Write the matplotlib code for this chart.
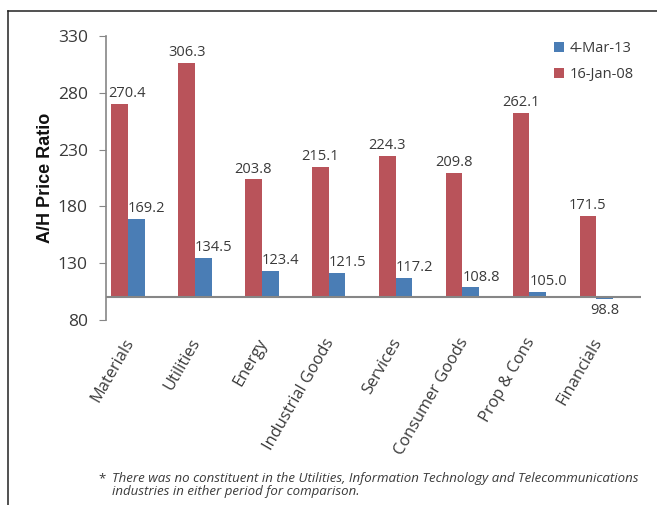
import matplotlib
matplotlib.use("Agg")
import matplotlib.pyplot as plt
from matplotlib.lines import Line2D
from matplotlib.transforms import ScaledTranslation
import numpy as np

sectors = ['Materials', 'Utilities', 'Energy', 'Industrial Goods', 'Services',
           'Consumer Goods', 'Prop & Cons', 'Financials']
jan_08 = [270.4, 306.3, 203.8, 215.1, 224.3, 209.8, 262.1, 171.5]
mar_13 = [169.2, 134.5, 123.4, 121.5, 117.2, 108.8, 105.0, 98.8]
yticks = [80, 130, 180, 230, 280, 330]
base = 100

red = '#B9535A'
blue = '#4A7DB5'
txt = '#3A3A3A'
axis_grey = '#868686'

plt.rcParams['font.family'] = ['Open Sans', 'DejaVu Sans']

fig = plt.figure(figsize=(6.57, 5.05), dpi=100)
ax = fig.add_axes([0.1613, 0.3663, 0.8144, 0.5624])

x = np.arange(len(sectors))
w = 0.25
red_h = [v - base for v in jan_08]
blue_h = [v - base for v in mar_13]
ax.bar(x - w / 2, red_h, width=w, bottom=base, color=red, label='16-Jan-08')
ax.bar(x + w / 2, blue_h, width=w, bottom=base, color=blue, label='4-Mar-13')

# value labels
for i, v in enumerate(jan_08):
    dx = 5 if i == 0 else 0
    ax.annotate(f'{v:.1f}', (x[i] - w / 2, v), xytext=(dx, 2), textcoords='offset points',
                ha='center', va='bottom', fontsize=10.5, color=txt)
for i, v in enumerate(mar_13):
    if v >= base:
        ax.annotate(f'{v:.1f}', (x[i], v), xytext=(0, 2), textcoords='offset points',
                    ha='left', va='bottom', fontsize=10.5, color=txt)
    else:
        ax.annotate(f'{v:.1f}', (x[i] + w / 2, v), xytext=(0, -3), textcoords='offset points',
                    ha='center', va='top', fontsize=10.5, color=txt)

ax.set_xlim(-0.33, 7.67)
ax.set_ylim(80, 330)
ax.set_yticks(yticks)
ax.tick_params(axis='y', direction='out', length=5, color=axis_grey, labelsize=12.5,
               labelcolor=txt, pad=8)
ax.set_xticks(x)
ax.set_xticklabels(sectors, rotation=60, ha='right', va='top', rotation_mode='anchor',
                   fontsize=11.8, color=txt)
ax.tick_params(axis='x', length=0, pad=11)
shift = ScaledTranslation(-5 / 100, 0, fig.dpi_scale_trans)
for lbl in ax.get_xticklabels():
    lbl.set_transform(lbl.get_transform() + shift)

for s in ['top', 'right', 'bottom']:
    ax.spines[s].set_visible(False)
ax.spines['left'].set_color(axis_grey)
ax.spines['left'].set_linewidth(1.2)
ax.axhline(base, color=axis_grey, lw=1.5, zorder=3)

ax.set_ylabel('A/H Price Ratio', fontsize=13, fontweight='bold', color='#111111',
              family='Liberation Sans', labelpad=3)

handles, labels = ax.get_legend_handles_labels()
ax.legend(handles[::-1], labels[::-1], loc='upper right', bbox_to_anchor=(0.985, 0.945),
          bbox_transform=fig.transFigure, frameon=False, fontsize=10.5,
          handlelength=0.7, handleheight=0.7, handletextpad=0.4, labelspacing=0.75,
          labelcolor=txt)

note_y = 1 - 472 / 505
fig.text(98 / 657, note_y, '*', fontsize=9.5, color=txt, va='top')
fig.text(112 / 657, note_y,
         'There was no constituent in the Utilities, Information Technology and Telecommunications\n'
         'industries in either period for comparison.',
         fontsize=9.5, color=txt, style='italic', va='top', linespacing=1.05)

# outer frame
fig.add_artist(Line2D([8 / 657, 1], [1 - 11 / 505, 1 - 11 / 505], transform=fig.transFigure,
                      color='#222222', lw=1.1))
fig.add_artist(Line2D([8 / 657, 8 / 657], [0, 1 - 11 / 505], transform=fig.transFigure,
                      color='#222222', lw=1.1))

plt.savefig('out.png', dpi=100)
